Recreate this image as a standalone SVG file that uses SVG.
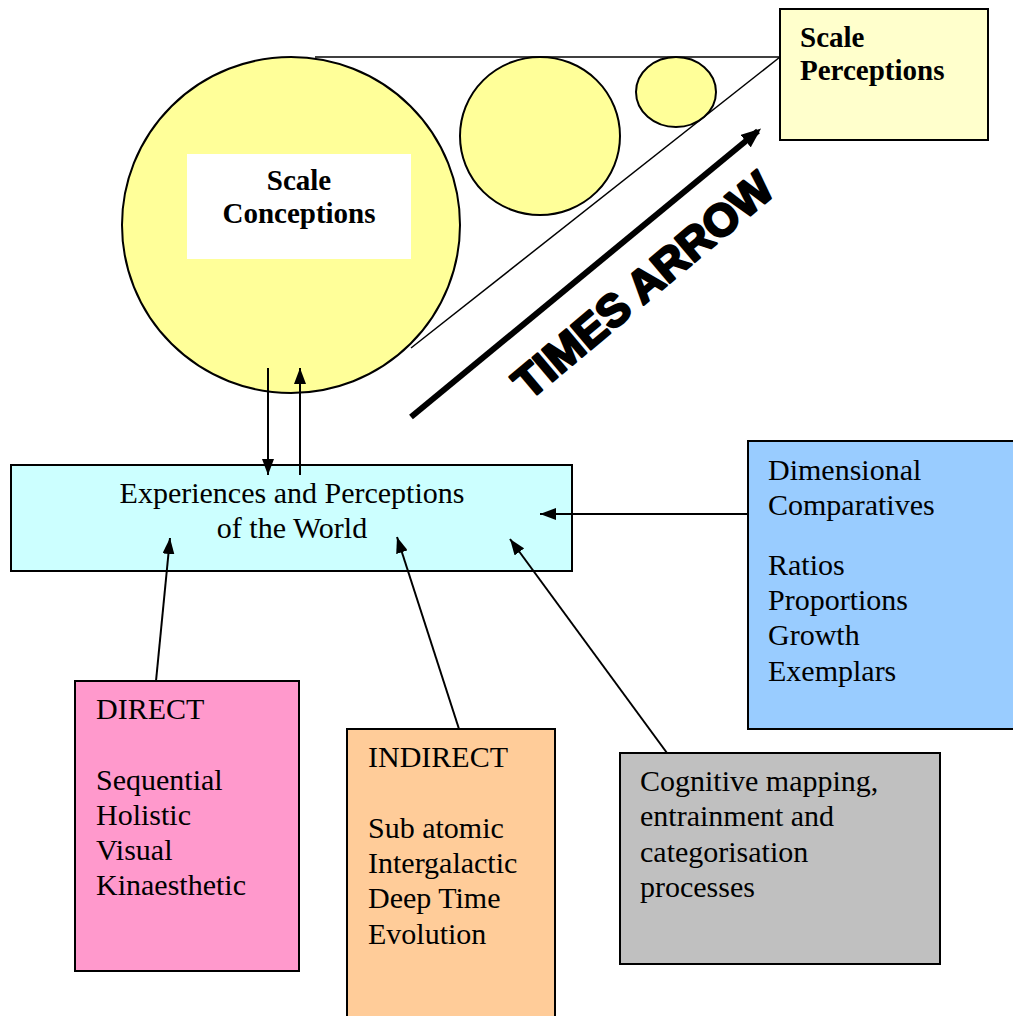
<svg xmlns="http://www.w3.org/2000/svg" width="1013" height="1016" viewBox="0 0 1013 1016">
  <defs>
    <marker id="head" viewBox="0 0 16 12" refX="16" refY="6" markerWidth="16" markerHeight="12" markerUnits="userSpaceOnUse" orient="auto">
      <path d="M0,0 L16,6 L0,12 Z" fill="#000"/>
    </marker>
    <marker id="bighead" viewBox="0 0 20 16" refX="16" refY="8" markerWidth="20" markerHeight="16" markerUnits="userSpaceOnUse" orient="auto">
      <path d="M0,0 L20,8 L0,16 Z" fill="#000"/>
    </marker>
  </defs>
  <style>
    .box { stroke: #000; stroke-width: 2; }
    .ball { fill: #FFFF99; stroke: #000; stroke-width: 2; }
    .t { font-family: "Liberation Serif", "Times New Roman", serif; font-size: 30px; fill: #000; }
    .b { font-family: "Liberation Serif", "Times New Roman", serif; font-size: 29px; font-weight: bold; fill: #000; }
    .conn { stroke: #000; stroke-width: 2; fill: none; marker-end: url(#head); }
    .guide { stroke: #000; stroke-width: 1.5; fill: none; }
  </style>
  <rect width="1013" height="1016" fill="#fff"/>

  <!-- perspective guide lines running to the perceptions box -->
  <g id="guides">
    <line class="guide" x1="315" y1="57" x2="780" y2="57"/>
    <line class="guide" x1="411" y1="348" x2="780" y2="57"/>
  </g>

  <!-- shrinking scale circles -->
  <g id="scale-conceptions">
    <ellipse class="ball" cx="291" cy="225" rx="169" ry="168"/>
    <rect x="187" y="154" width="224" height="105" fill="#fff"/>
    <text class="b" text-anchor="middle" x="299" y="190">Scale</text>
    <text class="b" text-anchor="middle" x="299" y="223">Conceptions</text>
  </g>
  <g id="circle-medium">
    <ellipse class="ball" cx="540" cy="136" rx="80" ry="79"/>
  </g>
  <g id="circle-small">
    <ellipse class="ball" cx="676" cy="92" rx="40" ry="35"/>
  </g>

  <g id="scale-perceptions">
    <rect class="box" x="780" y="9" width="208" height="131" fill="#FFFFCC"/>
    <text class="b" x="800" y="47">Scale</text>
    <text class="b" x="800" y="80">Perceptions</text>
  </g>

  <!-- time arrow with its slanted caption -->
  <g id="times-arrow">
    <line x1="411" y1="417" x2="758" y2="131" stroke="#000" stroke-width="6" marker-end="url(#bighead)"/>
    <text transform="translate(642,284) rotate(-40)" text-anchor="middle" y="17" font-family="Liberation Sans, Arial, sans-serif" font-weight="bold" font-size="45" fill="#000" stroke="#000" stroke-width="2.5" stroke-linejoin="round">TIMES ARROW</text>
  </g>

  <g id="experiences">
    <rect class="box" x="11" y="465" width="561" height="106" fill="#CCFFFF"/>
    <text class="t" text-anchor="middle" x="292" y="503">Experiences and Perceptions</text>
    <text class="t" text-anchor="middle" x="292" y="538">of the World</text>
  </g>

  <g id="dimensional">
    <rect class="box" x="748" y="441" width="270" height="288" fill="#99CCFF"/>
    <text class="t" x="768" y="480">Dimensional</text>
    <text class="t" x="768" y="515">Comparatives</text>
    <text class="t" x="768" y="575">Ratios</text>
    <text class="t" x="768" y="610">Proportions</text>
    <text class="t" x="768" y="645">Growth</text>
    <text class="t" x="768" y="681">Exemplars</text>
  </g>

  <g id="direct">
    <rect class="box" x="75" y="681" width="224" height="290" fill="#FF99CC"/>
    <text class="t" x="96" y="719">DIRECT</text>
    <text class="t" x="96" y="790">Sequential</text>
    <text class="t" x="96" y="825">Holistic</text>
    <text class="t" x="96" y="860">Visual</text>
    <text class="t" x="96" y="895">Kinaesthetic</text>
  </g>

  <g id="indirect">
    <rect class="box" x="347" y="729" width="208" height="300" fill="#FFCC99"/>
    <text class="t" x="368" y="767">INDIRECT</text>
    <text class="t" x="368" y="838">Sub atomic</text>
    <text class="t" x="368" y="873">Intergalactic</text>
    <text class="t" x="368" y="908">Deep Time</text>
    <text class="t" x="368" y="944">Evolution</text>
  </g>

  <g id="cognitive">
    <rect class="box" x="620" y="753" width="320" height="211" fill="#C0C0C0"/>
    <text class="t" x="640" y="791">Cognitive mapping,</text>
    <text class="t" x="640" y="826">entrainment and</text>
    <text class="t" x="640" y="862">categorisation</text>
    <text class="t" x="640" y="897">processes</text>
  </g>

  <g id="connectors">
    <line class="conn" x1="268" y1="368" x2="268" y2="475"/>
    <line class="conn" x1="300" y1="475" x2="300" y2="368"/>
    <line class="conn" x1="748" y1="514" x2="540" y2="514"/>
    <line class="conn" x1="156" y1="681" x2="170" y2="538"/>
    <line class="conn" x1="459" y1="729" x2="397" y2="537"/>
    <line class="conn" x1="667" y1="753" x2="510" y2="539"/>
  </g>
</svg>
